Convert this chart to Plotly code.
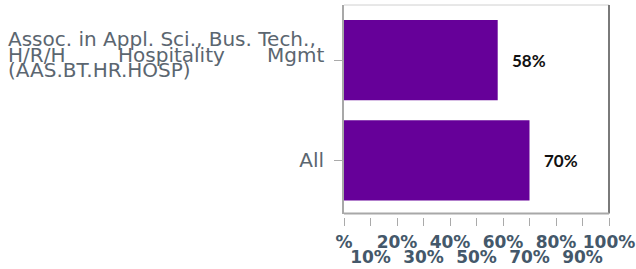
import plotly.graph_objects as go

categories = ["All", "Assoc. in Appl. Sci., Bus. Tech., H/R/H Hospitality Mgmt (AAS.BT.HR.HOSP)"]
values = [70, 58]
value_labels = ["70%", "58%"]
even_ticks = [0, 20, 40, 60, 80, 100]
even_text = ["%", "20%", "40%", "60%", "80%", "100%"]
odd_ticks = [10, 30, 50, 70, 90]
odd_text = ["10%", "30%", "50%", "70%", "90%"]
all_ticks = list(range(0, 101, 10))

W, H = 636, 269
L, R, T, B = 344, 27, 5, 52
plot_h = H - T - B
dom0 = 3.4 / plot_h

PURPLE = "#660099"
TICKC = "#44586a"
LABC = "#5b6670"
FONT = "Verdana, DejaVu Sans, sans-serif"

fig = go.Figure()
fig.add_trace(go.Bar(
    x=values, y=categories, orientation="h",
    marker=dict(color=PURPLE, line=dict(width=0)),
    hoverinfo="skip", showlegend=False,
))
fig.add_trace(go.Scatter(x=[], y=[], xaxis="x2", yaxis="y", showlegend=False, hoverinfo="skip"))

# value labels
for v, c, t in zip(values, categories, value_labels):
    fig.add_annotation(x=v, y=c, xref="x", yref="y", text=t, showarrow=False,
                       xanchor="left", xshift=12,
                       font=dict(family="Lato, Open Sans, sans-serif", size=17, color="#111111",
                                 weight="bold"))

# long category label drawn as justified lines
long_cat = categories[1]
lf = dict(family=FONT, size=20, color=LABC)
def lab(text, px, anchor, dy):
    fig.add_annotation(x=0, y=long_cat, xref="paper", yref="y", text=text, showarrow=False,
                       xanchor=anchor, yanchor="middle", xshift=px - L, yshift=dy,
                       font=lf, borderpad=0, borderwidth=0)
lab("Assoc. in Appl. Sci., Bus. Tech.,", 8, "left", 21)
lab("H/R/H", 8, "left", 5.5)
lab("Hospitality", 118, "left", 5.5)
lab("Mgmt", 324, "right", 5.5)
lab("(AAS.BT.HR.HOSP)", 8, "left", -10)

# frame lines
fig.add_shape(type="line", xref="x domain", yref="y domain", x0=0, x1=1, y0=1, y1=1,
              line=dict(color="#d0d0d0", width=1))
fig.add_shape(type="line", xref="x domain", yref="y domain", x0=1, x1=1, y0=0, y1=1,
              line=dict(color="#7a7a7a", width=2))
fig.add_shape(type="line", xref="x domain", yref="y domain", x0=0, x1=1, y0=0, y1=0,
              line=dict(color="#a8a8a8", width=2))

tf = dict(family=FONT, size=17, color=TICKC, weight="bold")
fig.update_layout(
    width=W, height=H,
    margin=dict(l=L, r=R, t=T, b=B, autoexpand=False),
    paper_bgcolor="white", plot_bgcolor="white",
    bargap=0.2,
    showlegend=False,
    xaxis=dict(range=[0, 100], anchor="free", position=0, showgrid=False, zeroline=False,
               showline=False, tickmode="array", tickvals=all_ticks,
               ticktext=[even_text[even_ticks.index(v)] if v in even_ticks else "" for v in all_ticks],
               ticks="outside", ticklen=8, tickwidth=1, tickcolor="#aaaaaa",
               ticklabelstandoff=2, tickfont=tf, fixedrange=True),
    xaxis2=dict(range=[0, 100], overlaying="x", anchor="free", position=0, side="bottom",
                showgrid=False, zeroline=False, showline=False, tickmode="array",
                tickvals=odd_ticks, ticktext=odd_text, ticks="", ticklabelstandoff=28,
                tickfont=tf, fixedrange=True),
    yaxis=dict(type="category", categoryorder="array", categoryarray=categories,
               range=[-0.53, 1.55], domain=[dom0, 1], showgrid=False, zeroline=False,
               showline=True, linecolor="#a8a8a8", linewidth=2,
               tickmode="array", tickvals=categories, ticktext=["All", ""],
               ticks="outside", ticklen=8, tickwidth=1, tickcolor="#aaaaaa",
               ticklabelstandoff=6,
               tickfont=dict(family=FONT, size=20, color=LABC), fixedrange=True),
)

fig.write_html("out.html", config={"displayModeBar": False},
               post_script="document.body.style.margin='0';")
